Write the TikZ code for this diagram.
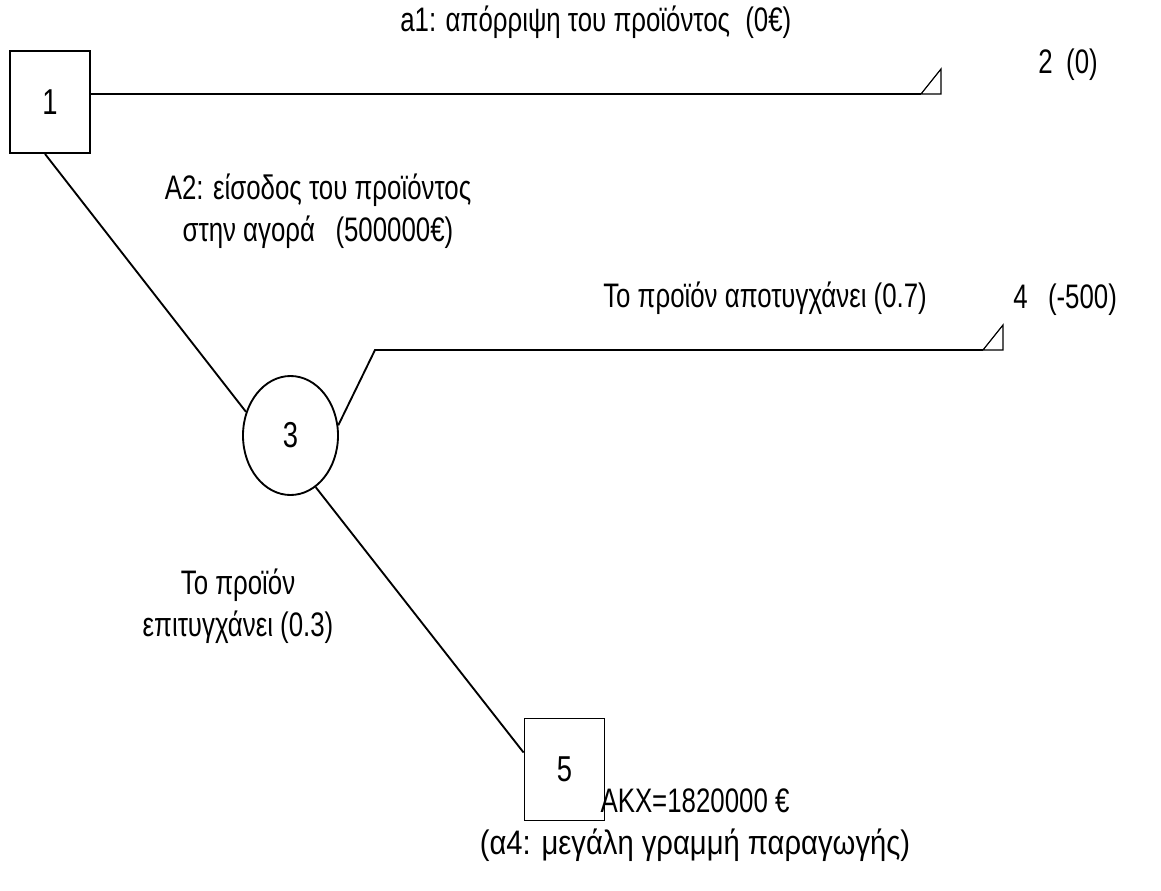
\documentclass[tikz,border=0pt]{standalone}
\usepackage{fontspec}
\setmainfont{Liberation Sans}[FakeStretch=0.76]
\usetikzlibrary{shapes.geometric,calc}
\tikzset{
  lbl/.style={font=\fontsize{25.5}{31.5}\selectfont, inner sep=0pt, align=center},
  numlbl/.style={font=\fontsize{27}{30}\selectfont},
  decision/.style={draw, line width=1.4pt, minimum width=60pt, minimum height=76.5pt, inner sep=0pt, lbl, numlbl},
  chance/.style={draw, ellipse, line width=1.4pt, minimum width=71.25pt, minimum height=89.25pt, inner sep=0pt, lbl, numlbl},
  branch/.style={line width=1.4pt},
  endmark/.style={line width=0.9pt}
}
\begin{document}
\begin{tikzpicture}[x=0.75pt,y=-0.75pt]
\useasboundingbox (0,0) rectangle (1161,890);

% decision and chance nodes
\node[decision] (d1) at (50,102) {1};
\node[chance]   (c3) at (290.5,435.5) {3};
\node[decision] (d5) at (564.5,769.5) {5};

% free ends of the terminal branches
\coordinate (e2) at (921,94);
\coordinate (e4) at (983,350);
\coordinate (k4) at (375,350);

% branches
\draw[branch] (d1.east |- e2) -- (e2);
\draw[branch] ($(d1.south)+(-5,0)$) -- (c3.152);
\draw[branch] (c3.12) -- (k4) -- (e4);
\draw[branch] (c3.-64.6) -- ($(d5.west)+(0,-17)$);

% terminal markers
\draw[endmark] (e2) -- ++(20,-25) -- ++(0,25) -- cycle;
\draw[endmark] (e4) -- ++(20,-25) -- ++(0,25) -- cycle;

% labels
\node[lbl, anchor=west] (t1) at (400,22) {a1: απόρριψη του προϊόντος\hspace{0.45em}(0€)};
\node[lbl, anchor=west] (t2) at (1038,65) {2\hspace{0.4em}(0)};
\node[lbl] (t3) at (318,211) {A2: είσοδος του προϊόντος\\στην αγορά\hspace{0.6em}(500000€)};
\node[lbl, anchor=west] (t4) at (603,298) {Το προϊόν αποτυγχάνει (0.7)};
\node[lbl, anchor=west] (t5) at (1013,300) {4\hspace{0.6em}(-500)};
\node[lbl] (t6) at (238,606) {Το προϊόν\\επιτυγχάνει (0.3)};
\node[lbl] (t7) at (695,825) {ΑΚΧ=1820000 €\\\scalebox{1.13}[1]{(α4: μεγάλη γραμμή παραγωγής)}};
\end{tikzpicture}
\end{document}
